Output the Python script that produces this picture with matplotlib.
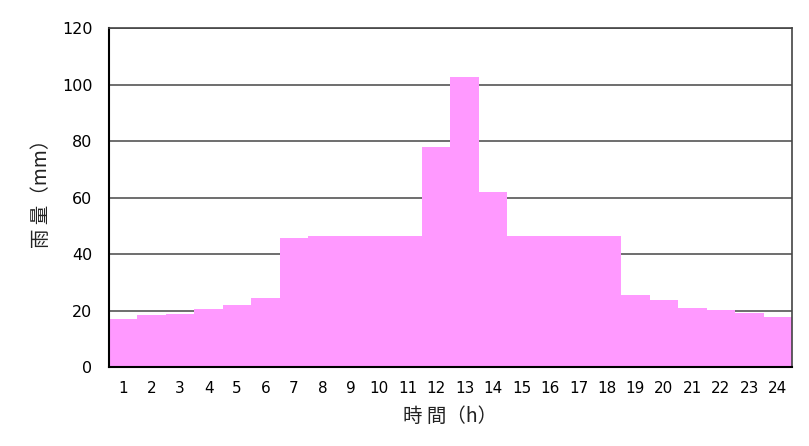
import matplotlib.pyplot as plt
import numpy as np

# 時間ごとの雨量 (mm)
hours = list(range(1, 25))
rain = [17.0, 18.3, 18.9, 20.6, 21.8, 24.4, 45.8, 46.4, 46.4, 46.4, 46.4, 77.8,
        102.8, 61.9, 46.4, 46.4, 46.4, 46.4, 25.5, 23.7, 20.8, 20.2, 19.0, 17.8]
y_ticks = [0, 20, 40, 60, 80, 100, 120]

plt.rcParams['font.family'] = ['Noto Sans CJK JP', 'DejaVu Sans']

fig = plt.figure(figsize=(8.09, 4.46), dpi=100)
ax = fig.add_axes([0.1347, 0.177, 0.8443, 0.760])

ax.bar(hours, rain, width=1.0, color="#FF99FF", edgecolor="none", zorder=2)

ax.set_xlim(0.5, 24.5)
ax.set_ylim(0, 120)
ax.set_yticks(y_ticks)
ax.yaxis.grid(True, color="#555555", linewidth=1.2, zorder=1)
ax.set_axisbelow(True)

# x軸: ラベルは棒の中央、目盛りは境界に
ax.set_xticks(hours)
ax.set_xticklabels([str(h) for h in hours], fontsize=11, family="DejaVu Sans")
ax.set_xticks(np.arange(1.5, 24.5, 1), minor=True)
ax.tick_params(axis="x", which="major", length=0, pad=10)
ax.tick_params(axis="x", which="minor", direction="in", length=5, width=1.2, color="black")
ax.tick_params(axis="y", length=0, pad=12)
for lbl in ax.get_yticklabels():
    lbl.set_family("DejaVu Sans")
    lbl.set_fontsize(11.5)

for side in ["top", "right"]:
    ax.spines[side].set_color("#444444")
    ax.spines[side].set_linewidth(1.2)
for side in ["left", "bottom"]:
    ax.spines[side].set_color("black")
    ax.spines[side].set_linewidth(1.5)

ax.set_ylabel("雨 量（mm）", fontsize=14, color="#222222")
ax.yaxis.set_label_coords(-0.083, 0.525)
ax.set_xlabel("時 間（h）", fontsize=14, labelpad=7, color="#222222")

plt.savefig("out.png", dpi=100)
